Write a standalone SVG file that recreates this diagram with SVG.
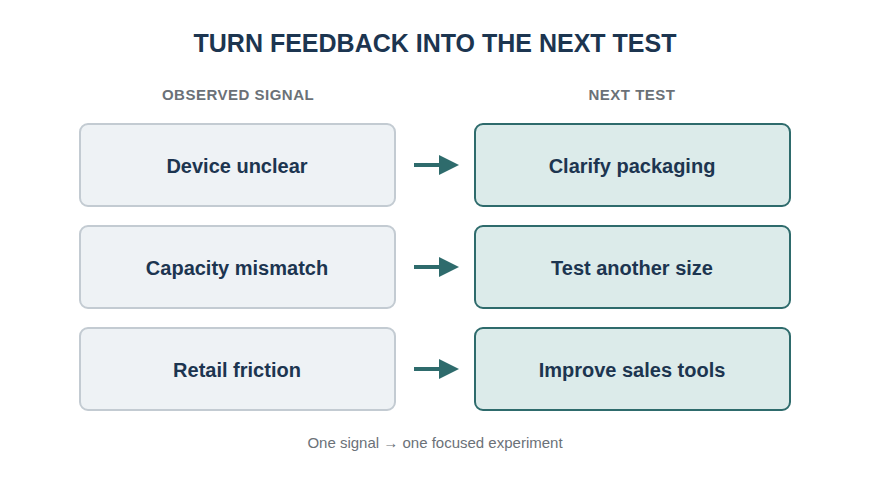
<svg xmlns="http://www.w3.org/2000/svg" width="870" height="480" viewBox="0 0 870 480">
<style>
text{font-family:"Liberation Sans",Arial,sans-serif;text-anchor:middle}
.l{fill:#eef2f5;stroke:#c3cbd2;stroke-width:2}
.r{fill:#dcebea;stroke:#2e6b6c;stroke-width:2}
.t{font-size:20px;font-weight:bold;fill:#1c3550}
.h{font-size:15px;font-weight:bold;fill:#6b7178;letter-spacing:0.5px}
.c{stroke:#2e6b6c;stroke-width:4;fill:none}
</style>
<defs><marker id="a" markerWidth="5" markerHeight="5" refX="4" refY="2.5" orient="auto"><path d="M0,0L5,2.5L0,5z" fill="#2e6b6c"/></marker></defs>
<rect width="870" height="480" fill="#fff"/>
<text x="435" y="52" font-size="25" font-weight="bold" fill="#1c3550">TURN FEEDBACK INTO THE NEXT TEST</text>
<text class="h" x="238" y="100">OBSERVED SIGNAL</text>
<text class="h" x="632" y="100">NEXT TEST</text>
<g id="s1"><rect class="l" x="80" y="124" width="315" height="82" rx="8"/><text class="t" x="237" y="173">Device unclear</text></g>
<g id="s2"><rect class="l" x="80" y="226" width="315" height="82" rx="8"/><text class="t" x="237" y="275">Capacity mismatch</text></g>
<g id="s3"><rect class="l" x="80" y="328" width="315" height="82" rx="8"/><text class="t" x="237" y="377">Retail friction</text></g>
<g id="n1"><rect class="r" x="475" y="124" width="315" height="82" rx="8"/><text class="t" x="632" y="173">Clarify packaging</text></g>
<g id="n2"><rect class="r" x="475" y="226" width="315" height="82" rx="8"/><text class="t" x="632" y="275">Test another size</text></g>
<g id="n3"><rect class="r" x="475" y="328" width="315" height="82" rx="8"/><text class="t" x="632" y="377">Improve sales tools</text></g>
<g id="connectors">
<path class="c" d="M414,165H455" marker-end="url(#a)"/>
<path class="c" d="M414,267H455" marker-end="url(#a)"/>
<path class="c" d="M414,369H455" marker-end="url(#a)"/>
</g>
<text x="435" y="448" font-size="15" fill="#6b7178">One signal → one focused experiment</text>
</svg>
